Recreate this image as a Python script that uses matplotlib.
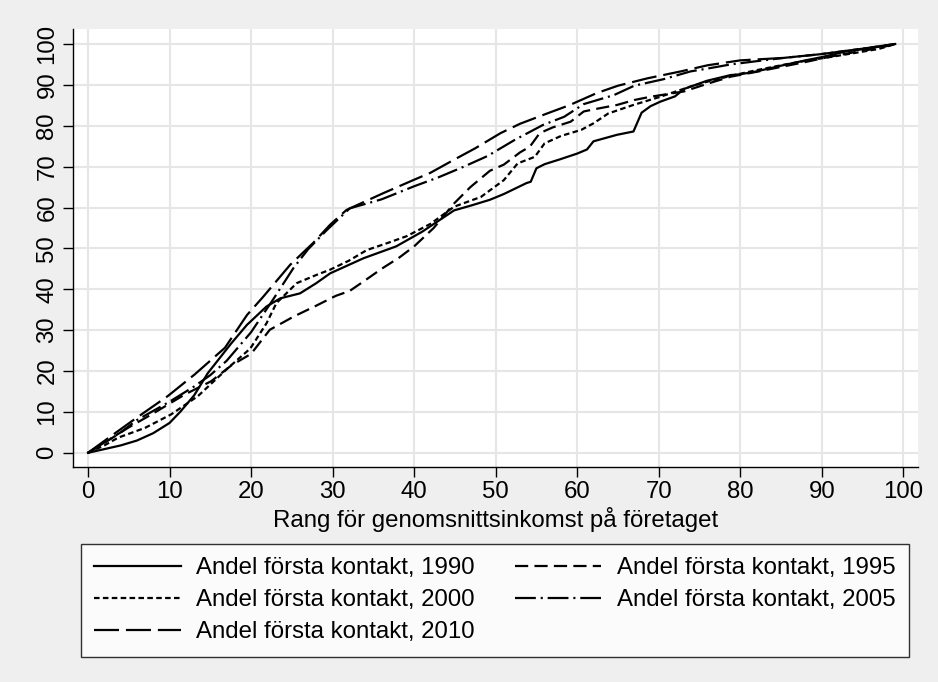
import matplotlib
matplotlib.use("Agg")
import matplotlib.pyplot as plt

# ==========================================
# 0. Style
# ==========================================
plt.rcParams['font.family'] = ['Liberation Sans', 'DejaVu Sans']
plt.rcParams['font.size'] = 17.3
plt.rcParams['lines.scale_dashes'] = False

BG = '#efefef'
GRID = '#e6e6e6'

# ==========================================
# 1. Data
# ==========================================
x_1990 = [0, 2, 4, 6, 8, 10, 11.3, 13, 14.7, 17.5, 19.5, 21.9, 23.6, 26, 28, 29.7,
          33.8, 37.8, 41, 44.9, 47, 49.3, 51, 53.8, 54.3, 55, 56, 57.9, 60, 61.2, 62,
          64.9, 66.9, 67.9, 69, 70.2, 72, 73.1, 75.9, 78.8, 80, 82, 85, 88, 90, 93, 96, 99]
y_1990 = [0, 0.9, 1.8, 3.0, 4.8, 7.3, 10.0, 14.0, 19.5, 26.6, 31.3, 35.8, 37.8, 39.0, 41.5, 43.9,
          47.6, 50.5, 54.1, 59.3, 60.5, 61.9, 63.3, 66.0, 66.3, 69.6, 70.6, 71.8, 73.2, 74.2, 76.2,
          77.8, 78.6, 83.2, 84.8, 85.9, 87.2, 89.0, 91.0, 92.4, 92.6, 93.3, 94.7, 96.0, 96.8, 98.2, 99.0, 100]

x_1995 = [0, 2, 4.9, 7.8, 11.9, 15.1, 17.6, 20, 22.3, 25.2, 28, 30.4, 32.1, 34, 36,
          38.2, 40, 42.4, 44.9, 46.9, 49.3, 51, 53, 54.2, 55.4, 57, 59.2, 60.8, 62,
          64.9, 67, 69, 73.1, 76, 78.8, 82, 85, 88, 91, 94, 97, 99]
y_1995 = [0, 2.4, 6.1, 9.4, 14.3, 17.5, 21.4, 24.2, 30.1, 33.3, 36.0, 38.4, 39.6, 42.2, 45.0,
          47.8, 50.5, 55.0, 61.0, 65.0, 69.0, 70.5, 73.5, 74.9, 78.2, 79.6, 81.0, 83.5, 84.0,
          85.1, 86.3, 87.1, 88.4, 90.3, 92.0, 93.2, 94.4, 95.6, 96.9, 98.0, 99.0, 100]

x_2000 = [0, 2, 3.7, 7, 10.2, 13.5, 17.2, 19.9, 21.9, 23.1, 25.6, 28, 29.7, 32, 34.2,
          37, 39.1, 42, 44.9, 48.2, 51, 52.7, 54.8, 56, 58, 60.5, 62, 63.8, 66.9,
          70.2, 73.9, 76, 78.8, 82, 85, 88, 91, 94, 97, 99]
y_2000 = [0, 1.8, 3.7, 6.1, 9.4, 13.9, 20.8, 25.5, 31.7, 36.6, 41.5, 43.5, 44.8, 47.0, 49.6,
          51.5, 53.0, 56.0, 60.2, 62.6, 66.7, 70.8, 72.4, 75.7, 77.5, 79.0, 80.6, 83.0, 85.1,
          87.1, 89.6, 90.8, 92.2, 93.6, 94.8, 95.9, 96.8, 97.8, 98.8, 100]

x_2005 = [0, 2, 4, 6, 10, 13, 15, 17, 20, 22.7, 25.2, 27, 29.3, 32.1, 36, 40, 43,
          46.1, 49, 52.3, 55.8, 58.4, 60.8, 64.5, 67, 70.6, 73.9, 76, 78.8, 82, 85.3,
          89.8, 94.8, 99]
y_2005 = [0, 2.5, 5.0, 8.0, 12.5, 16.2, 19.0, 22.5, 29.5, 37.5, 45.2, 49.8, 54.5, 59.8, 62.0, 65.2, 67.4,
          70.0, 72.6, 76.5, 80.2, 82.2, 85.3, 87.5, 89.8, 91.4, 93.3, 94.0, 95.0, 95.8, 96.6,
          97.5, 98.8, 100]

x_2010 = [0, 2, 5.7, 9.8, 13.1, 16.8, 19.5, 21.5, 24.8, 27.6, 29.7, 31.7, 34, 36.2,
          40, 42, 44.9, 47.5, 50.6, 53, 56.3, 59, 62.4, 65, 68.6, 72.7, 76, 80, 85.3,
          89.8, 94.8, 99]
y_2010 = [0, 2.9, 8.2, 13.9, 19.2, 25.7, 33.7, 38.2, 46.0, 51.3, 55.8, 59.4, 61.5, 63.5,
          66.8, 68.5, 71.7, 74.5, 78.2, 80.5, 83.0, 85.0, 88.0, 89.8, 91.6, 93.3, 94.8, 96.0, 96.6,
          97.5, 98.8, 100]

labels = ['Andel första kontakt, 1990', 'Andel första kontakt, 1995',
          'Andel första kontakt, 2000', 'Andel första kontakt, 2005',
          'Andel första kontakt, 2010']
x_ticks = list(range(0, 101, 10))
y_ticks = list(range(0, 101, 10))
x_title = 'Rang för genomsnittsinkomst på företaget'

# ==========================================
# 2. Plot
# ==========================================
fig = plt.figure(figsize=(9.38, 6.82), dpi=100, facecolor=BG)
ax = fig.add_axes([73 / 938, 1 - 466.7 / 682, 845 / 938, 437.4 / 682])
ax.set_facecolor('white')

lw = 1.6
series = [(x_1990, y_1990, '-'),
          (x_1995, y_1995, (0, (9.5, 4.5))),
          (x_2000, y_2000, (0, (4, 2.4))),
          (x_2005, y_2005, (0, (15, 3.5, 1.5, 3.5))),
          (x_2010, y_2010, (0, (18, 5)))]
handles = []
for (xs, ys, ls), lab in zip(series, labels):
    h, = ax.plot(xs, ys, color='black', lw=lw, linestyle=ls, label=lab,
                 solid_joinstyle='round', dash_capstyle='butt')
    handles.append(h)

ax.set_xlim(-1.84, 101.8)
ax.set_ylim(-3.4, 103.6)
ax.set_xticks(x_ticks)
ax.set_yticks(y_ticks)
ax.grid(True, color=GRID, lw=1.5)
ax.set_axisbelow(True)

for side in ['top', 'right']:
    ax.spines[side].set_visible(False)
for side in ['left', 'bottom']:
    ax.spines[side].set_linewidth(1.0)
    ax.spines[side].set_color('black')

ax.tick_params(axis='x', length=7, width=1.0, direction='out', pad=3)
ax.tick_params(axis='y', length=7, width=1.0, direction='out', pad=3.5)
plt.setp(ax.get_yticklabels(), rotation=90, va='center')

ax.set_xlabel(x_title, labelpad=3)

# row-wise order in a 2-column legend (matplotlib fills column by column)
order = [0, 2, 4, 1, 3]
leg = fig.legend([handles[i] for i in order], [labels[i] for i in order],
                 loc='upper left', bbox_to_anchor=(81 / 938, 1 - 544 / 682),
                 ncol=2, frameon=True, fancybox=False, edgecolor='black',
                 handlelength=3.6, handletextpad=0.65, columnspacing=1.65,
                 borderpad=0.55, labelspacing=0.42, borderaxespad=0)
leg.get_frame().set_linewidth(1.0)
leg.get_frame().set_facecolor('white')

fig.savefig('out.png', dpi=100, facecolor=BG)
